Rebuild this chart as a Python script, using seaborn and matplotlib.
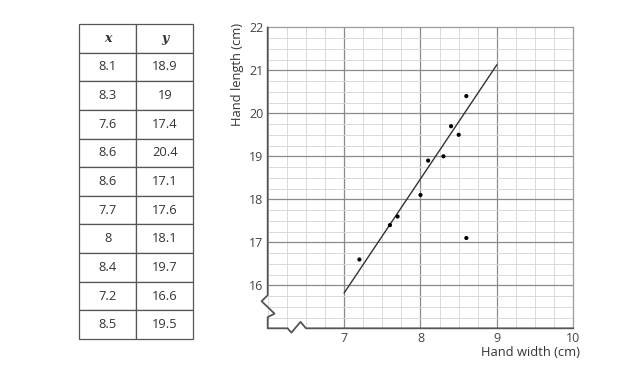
import matplotlib
matplotlib.use("Agg")
import matplotlib.pyplot as plt
import numpy as np
import pandas as pd
import seaborn as sns

# ---- data ----
hand_width = [8.1, 8.3, 7.6, 8.6, 8.6, 7.7, 8.0, 8.4, 7.2, 8.5]
hand_length = [18.9, 19.0, 17.4, 20.4, 17.1, 17.6, 18.1, 19.7, 16.6, 19.5]
table_x_labels = ["8.1", "8.3", "7.6", "8.6", "8.6", "7.7", "8", "8.4", "7.2", "8.5"]
table_y_labels = ["18.9", "19", "17.4", "20.4", "17.1", "17.6", "18.1", "19.7", "16.6", "19.5"]
fit_x = [7.0, 9.0]
fit_y = [15.82, 21.13]
x_ticks = [7, 8, 9, 10]
y_ticks = [16, 17, 18, 19, 20, 21, 22]

sns.set_style("white")
plt.rcParams["font.family"] = ["Open Sans", "DejaVu Sans"]

W, H = 630, 385
fig = plt.figure(figsize=(W / 100, H / 100), dpi=100)

# ---- scatter axes ----
L, R, T, B = 267.7, 573.3, 27.3, 328.3
ax = fig.add_axes([L / W, 1 - B / H, (R - L) / W, (B - T) / H])
ax.set_xlim(6, 10)
ax.set_ylim(15, 22)

# grid
for v in np.arange(6, 10.001, 0.25):
    major = abs(v - round(v)) < 1e-9 and 6 < v < 10
    ax.axvline(v, color="#8a8a8a" if major else "#d9d9d9", lw=0.9 if major else 0.7, zorder=0)
for v in np.arange(15, 22.001, 0.25):
    major = abs(v - round(v)) < 1e-9 and 15 < v < 22
    ax.axhline(v, color="#8a8a8a" if major else "#d9d9d9", lw=0.9 if major else 0.7, zorder=0)

df = pd.DataFrame({"w": hand_width, "l": hand_length})
sns.scatterplot(data=df, x="w", y="l", ax=ax, color="black", s=9, edgecolor="none", zorder=4)
sns.lineplot(x=fit_x, y=fit_y, ax=ax, color="#333333", lw=1.0, zorder=3)

# spines with break marks
for s in ["left", "bottom"]:
    ax.spines[s].set_visible(False)
for s in ["top", "right"]:
    ax.spines[s].set_color("#9a9a9a")
    ax.spines[s].set_linewidth(0.9)

yb_x = [6, 6, 5.92, 6.09, 6.0, 6.0]
yb_y = [22, 15.77, 15.63, 15.34, 15.26, 15.0]
ax.plot(yb_x, yb_y, color="#555555", lw=1.3, clip_on=False, zorder=5)
xb_x = [6.0, 6.26, 6.31, 6.43, 6.50, 10.0]
xb_y = [15.0, 15.0, 14.9, 15.15, 15.0, 15.0]
ax.plot(xb_x, xb_y, color="#555555", lw=1.3, clip_on=False, zorder=5)

ax.set_xticks(x_ticks)
ax.set_yticks(y_ticks)
ax.set_xticklabels([str(t) for t in x_ticks])
ax.set_yticklabels([str(t) for t in y_ticks])
ax.tick_params(axis="both", length=0, labelsize=9, labelcolor="#444444", pad=3)
ax.set_xlabel("")
ax.set_ylabel("")

fig.text(580 / W, 1 - 353 / H, "Hand width (cm)", ha="right", va="center",
         fontsize=9.3, color="#333333")
fig.text(238 / W, 1 - 74 / H, "Hand length (cm)", ha="center", va="center",
         rotation=90, fontsize=9.3, color="#333333")

# ---- table ----
tL, tR, tT, tB = 79, 193.3, 24, 339
tax = fig.add_axes([tL / W, 1 - tB / H, (tR - tL) / W, (tB - tT) / H])
tax.axis("off")
cells = [[a, b] for a, b in zip(table_x_labels, table_y_labels)]
tbl = tax.table(cellText=cells, colLabels=["x", "y"], cellLoc="center",
                bbox=[0, 0, 1, 1])
tbl.auto_set_font_size(False)
for (r, c), cell in tbl.get_celld().items():
    cell.set_edgecolor("#555555")
    cell.set_linewidth(0.9)
    txt = cell.get_text()
    txt.set_color("#333333")
    if r == 0:
        txt.set_fontfamily(["DejaVu Serif"])
        txt.set_fontstyle("italic")
        txt.set_fontweight("bold")
        txt.set_fontsize(9)
    else:
        txt.set_fontsize(9.3)

fig.savefig("out.png", dpi=100)
